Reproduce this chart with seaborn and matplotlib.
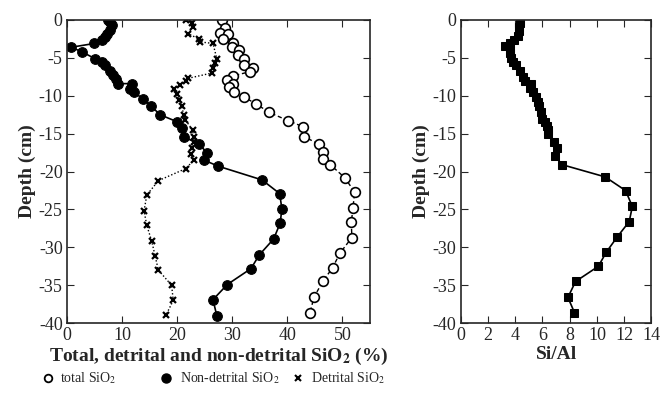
import matplotlib
matplotlib.use("Agg")
import matplotlib.pyplot as plt
from matplotlib.lines import Line2D
import seaborn as sns
import pandas as pd

# ---- data ----
nd_depth = [0, -0.3, -0.7, -1.3, -1.8, -2.2, -2.6, -3.1, -3.6, -4.2, -5.1, -5.5, -6.0, -6.7,
            -7.3, -7.8, -8.4, -8.4, -9.1, -9.5, -10.4, -11.3, -12.5, -13.4, -14.3, -15.4,
            -16.4, -17.5, -18.5, -19.3, -21.1, -22.9, -24.9, -26.8, -28.9, -31.0, -32.8,
            -34.9, -36.9, -39.0]
nd_val = [7.5, 7.8, 8.1, 7.8, 7.3, 6.9, 6.3, 5.0, 0.8, 2.7, 5.1, 6.3, 6.9, 7.8,
          8.4, 9.0, 9.3, 11.8, 11.5, 12.1, 13.8, 15.2, 16.9, 19.9, 20.8, 21.2,
          24.0, 25.4, 24.9, 27.5, 35.4, 38.6, 39.0, 38.7, 37.5, 34.9, 33.4,
          29.1, 26.5, 27.2]

tot_depth = [0, -1.0, -1.7, -1.9, -2.5, -3.0, -3.6, -4.0, -4.6, -5.2, -5.9, -6.3, -6.8,
             -7.4, -7.9, -8.4, -8.9, -9.5, -10.2, -11.1, -12.2, -13.3, -14.1, -15.4,
             -16.4, -17.4, -18.4, -19.1, -20.8, -22.7, -24.8, -26.7, -28.7, -30.8,
             -32.7, -34.4, -36.6, -38.7]
tot_val = [28.1, 28.7, 27.7, 29.3, 28.4, 30.1, 29.9, 31.3, 31.0, 32.1, 32.2, 33.7, 33.3,
           30.1, 29.0, 30.2, 29.5, 30.4, 32.2, 34.4, 36.7, 40.2, 42.9, 43.1,
           45.7, 46.5, 46.5, 47.8, 50.4, 52.2, 51.9, 51.6, 51.7, 49.5,
           48.2, 46.5, 44.8, 44.1]

det_depth = [0, -0.4, -0.9, -1.8, -2.5, -2.9, -3.1, -5.1, -5.7, -6.4, -7.0, -7.7, -8.0,
             -8.6, -9.1, -9.8, -10.6, -11.3, -12.5, -13.2, -14.5, -15.4, -16.1, -16.9,
             -17.7, -18.5, -19.6, -21.2, -23.1, -25.2, -27.1, -29.2, -31.1, -33.0,
             -35.0, -37.0, -38.9]
det_val = [21.6, 22.7, 22.8, 22.0, 23.9, 24.2, 26.5, 27.2, 26.9, 26.6, 26.3, 22.0, 21.6,
           20.5, 19.5, 19.9, 20.4, 20.8, 21.2, 21.5, 22.8, 23.0, 23.1, 22.7,
           22.5, 23.0, 21.6, 16.6, 14.5, 14.0, 14.5, 15.4, 16.0, 16.6,
           19.0, 19.3, 18.0]

sial_depth = [0, -0.4, -0.9, -1.5, -2.1, -2.6, -3.1, -3.4, -3.9, -4.4, -5.0, -5.5, -6.0,
              -6.7, -7.5, -8.0, -8.4, -9.0, -9.5, -10.2, -10.8, -11.4, -12.2, -13.0,
              -13.4, -14.0, -14.5, -15.0, -16.1, -16.9, -18.0, -19.1, -20.7, -22.5,
              -24.6, -26.6, -28.6, -30.6, -32.5, -34.5, -36.6, -38.6]
sial_val = [4.33, 4.33, 4.28, 4.28, 4.2, 3.9, 3.6, 3.24, 3.6, 3.6, 3.7, 3.84, 4.08,
            4.33, 4.57, 4.69, 5.17, 5.12, 5.29, 5.53, 5.65, 5.77, 5.9, 6.0,
            6.2, 6.3, 6.4, 6.4, 6.86, 7.05, 6.93, 7.46, 10.6, 12.1,
            12.6, 12.37, 11.5, 10.7, 10.1, 8.43, 7.87, 8.35]

xticks_left = [0, 10, 20, 30, 40, 50]
xticks_right = [0, 2, 4, 6, 8, 10, 12, 14]
yticks = [0, -5, -10, -15, -20, -25, -30, -35, -40]
legend_labels = ["total SiO$_2$", "Non-detrital SiO$_2$", "Detrital SiO$_2$"]

sns.set_style("ticks")
plt.rcParams['font.family'] = ['Liberation Serif', 'DejaVu Serif']
plt.rcParams['mathtext.fontset'] = 'stix'
plt.rcParams['axes.unicode_minus'] = False

fig = plt.figure(figsize=(6.62, 3.99), dpi=100)
ax1 = fig.add_axes([0.101, 0.190, 0.458, 0.760])
ax2 = fig.add_axes([0.696, 0.190, 0.288, 0.760])

df_tot = pd.DataFrame({"x": tot_val, "y": tot_depth})
df_nd = pd.DataFrame({"x": nd_val, "y": nd_depth})
df_det = pd.DataFrame({"x": det_val, "y": det_depth})
df_sial = pd.DataFrame({"x": sial_val, "y": sial_depth})

sns.lineplot(data=df_tot, x="x", y="y", sort=False, estimator=None, ax=ax1,
             color="black", lw=1.0, linestyle=(0, (3, 2)), marker="o", markersize=7,
             markerfacecolor="white", markeredgecolor="black", markeredgewidth=1.2)
sns.lineplot(data=df_nd, x="x", y="y", sort=False, estimator=None, ax=ax1,
             color="black", lw=1.2, marker="o", markersize=7,
             markerfacecolor="black", markeredgecolor="black")
sns.lineplot(data=df_det, x="x", y="y", sort=False, estimator=None, ax=ax1,
             color="black", lw=1.0, linestyle=(0, (1, 1.5)), marker="x", markersize=5,
             markeredgewidth=1.6, markeredgecolor="black")
sns.lineplot(data=df_sial, x="x", y="y", sort=False, estimator=None, ax=ax2,
             color="black", lw=1.2, marker="s", markersize=6,
             markerfacecolor="black", markeredgecolor="black")

for ax, xt, xl in [(ax1, xticks_left, (0, 55)), (ax2, xticks_right, (0, 14))]:
    ax.set_xlim(*xl)
    ax.set_ylim(-40, 0)
    ax.set_xticks(xt)
    ax.set_yticks(yticks)
    ax.tick_params(direction="in", top=True, right=True, length=5, width=0.8,
                   labelsize=13, pad=3)
    for s in ax.spines.values():
        s.set_linewidth(1.2)
        s.set_visible(True)
    ax.set_ylabel("Depth (cm)", fontsize=14, fontweight="bold", labelpad=2)

ax1.set_xlabel("Total, detrital and non-detrital SiO$_\\mathbf{2}$ (%)", fontsize=14,
               fontweight="bold", labelpad=1)
ax2.set_xlabel("Si/Al", fontsize=14, fontweight="bold", labelpad=1)

# legend row at the bottom
W, H = 662.0, 399.0
ly = 1 - 378 / H
marker_specs = [
    dict(marker="o", mfc="white", mec="black", ms=5.5, mew=1.3),
    dict(marker="o", mfc="black", mec="black", ms=6.5, mew=1.0),
    dict(marker="x", mfc="black", mec="black", ms=4.5, mew=1.5),
]
marker_x = [48, 166, 298]
text_x = [60, 180, 311]
for mx, tx, spec, lab in zip(marker_x, text_x, marker_specs, legend_labels):
    fig.add_artist(Line2D([mx / W], [ly], transform=fig.transFigure, ls="none", **spec))
    fig.text(tx / W, ly, lab, fontsize=10, va="center", ha="left")

fig.savefig("out.png", dpi=100)
